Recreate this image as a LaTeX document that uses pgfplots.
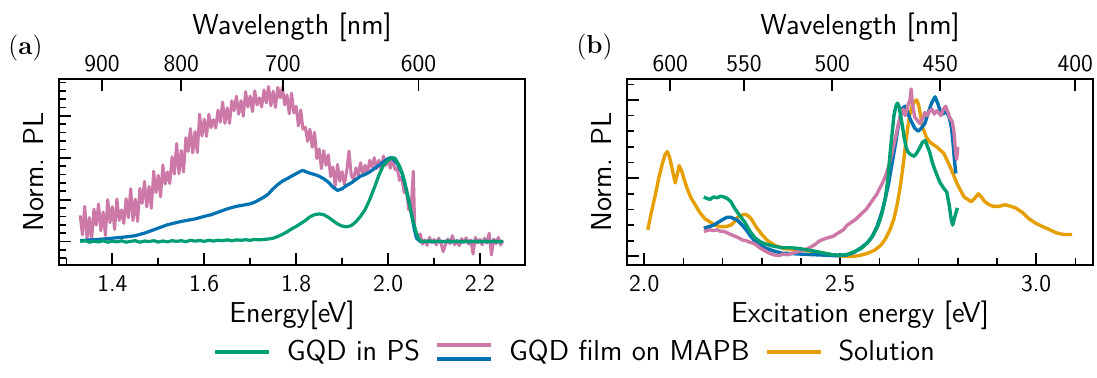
\documentclass[border=0pt]{standalone}
\usepackage{fontspec}
\usepackage{pgfplots}
\usepackage{pgfplotstable}
\pgfplotsset{compat=1.18}
\renewcommand{\familydefault}{\sfdefault}
\definecolor{cgreen}{HTML}{009E73}
\definecolor{cpink}{HTML}{CC79A7}
\definecolor{cblue}{HTML}{0072B2}
\definecolor{corange}{HTML}{E69F00}

% ---------------- panel (a) data ----------------
\pgfplotstableread{
E v
1.330 0.312
1.335 0.08
1.340 0.42
1.345 0.034
1.350 0.286
1.355 0.01
1.360 0.389
1.365 0.196
1.370 0.448
1.375 0.128
1.380 0.353
1.385 0.072
1.390 0.50
1.395 0.224
1.400 0.415
1.405 0.144
1.410 0.506
1.415 0.252
1.420 0.377
1.425 0.216
1.430 0.512
1.435 0.285
1.440 0.63
1.445 0.249
1.450 0.506
1.455 0.24
1.460 0.634
1.465 0.456
1.470 0.718
1.475 0.413
1.480 0.658
1.485 0.397
1.490 0.84
1.495 0.584
1.500 0.79
1.505 0.534
1.510 0.916
1.515 0.687
1.520 0.832
1.525 0.691
1.530 1.012
1.535 0.805
1.540 1.17
1.545 0.809
1.550 1.086
1.555 0.83
1.560 1.239
1.565 1.076
1.570 1.348
1.575 1.058
1.580 1.313
1.585 1.062
1.590 1.52
1.595 1.259
1.600 1.46
1.605 1.255
1.610 1.52
1.615 1.36
1.620 1.455
1.625 1.355
1.630 1.57
1.635 1.425
1.640 1.665
1.645 1.41
1.650 1.595
1.655 1.41
1.660 1.68
1.665 1.56
1.670 1.735
1.675 1.52
1.680 1.68
1.685 1.495
1.690 1.79
1.695 1.605
1.700 1.735
1.705 1.55
1.710 1.80
1.715 1.63
1.720 1.715
1.725 1.605
1.730 1.81
1.735 1.655
1.740 1.85
1.745 1.62
1.750 1.795
1.755 1.60
1.760 1.84
1.765 1.715
1.770 1.84
1.775 1.63
1.780 1.75
1.785 1.525
1.790 1.77
1.795 1.535
1.800 1.615
1.805 1.38
1.810 1.57
1.815 1.34
1.820 1.365
1.825 1.195
1.830 1.34
1.835 1.125
1.840 1.305
1.845 0.99
1.850 1.105
1.855 0.87
1.860 1.085
1.865 0.91
1.870 1.035
1.875 0.775
1.880 0.89
1.885 0.665
1.890 0.92
1.895 0.72
1.900 0.835
1.905 0.68
1.910 0.84
1.915 1.08
1.920 0.79
1.925 0.74
1.930 0.88
1.935 0.79
1.940 0.94
1.945 0.80
1.950 0.91
1.955 0.81
1.960 0.97
1.965 0.89
1.970 1.00
1.975 0.87
1.980 0.97
1.985 0.86
1.990 1.02
1.995 0.91
2.000 0.985
2.005 0.875
2.010 1.00
2.015 0.86
2.020 0.87
2.025 0.73
2.030 0.77
2.035 0.585
2.040 0.62
2.045 0.38
2.050 0.38
2.055 0.84
2.058 0.18
2.060 0.12
2.065 0.06
2.070 0.09
2.075 -0.03
2.080 0.02
2.085 -0.045
2.090 0.05
2.095 -0.015
2.100 0.025
2.105 -0.04
2.110 0.04
2.115 -0.02
2.120 -0.12
2.125 -0.035
2.130 0.03
2.135 -0.025
2.140 0.07
2.145 -0.04
2.150 0.015
2.155 -0.05
2.160 0.035
2.165 -0.01
2.170 0.045
2.175 -0.03
2.180 0.02
2.185 -0.15
2.190 0.05
2.195 -0.015
2.200 0.025
2.205 -0.04
2.210 0.04
2.215 -0.02
2.220 0.10
2.225 -0.16
2.230 0.03
2.235 -0.025
2.240 0.05
2.245 -0.04
2.250 0.015
}\pinkA

\pgfplotstableread{
E v
1.330 0.010
1.350 0.018
1.370 0.025
1.390 0.035
1.400 0.040
1.420 0.050
1.440 0.062
1.450 0.070
1.460 0.085
1.470 0.100
1.480 0.120
1.490 0.140
1.500 0.160
1.510 0.180
1.520 0.200
1.535 0.220
1.550 0.240
1.565 0.255
1.580 0.270
1.600 0.300
1.615 0.320
1.630 0.350
1.650 0.390
1.670 0.420
1.690 0.440
1.700 0.450
1.710 0.470
1.720 0.500
1.730 0.530
1.740 0.570
1.750 0.630
1.760 0.680
1.770 0.720
1.780 0.750
1.790 0.780
1.800 0.810
1.810 0.840
1.815 0.850
1.820 0.835
1.830 0.815
1.840 0.800
1.850 0.780
1.860 0.750
1.870 0.710
1.880 0.650
1.890 0.610
1.900 0.630
1.910 0.670
1.920 0.700
1.930 0.740
1.940 0.780
1.950 0.800
1.960 0.830
1.970 0.870
1.980 0.910
1.990 0.950
2.000 0.990
2.005 1.000
2.010 0.990
2.020 0.930
2.030 0.820
2.040 0.620
2.050 0.360
2.057 0.150
2.062 0.040
2.070 0.000
2.250 0.000
}\blueA

\pgfplotstableread{
E v
1.330 0.000
1.340 0.010
1.350 -0.008
1.360 0.005
1.370 -0.005
1.380 0.010
1.390 -0.008
1.400 0.005
1.410 -0.004
1.420 0.009
1.430 -0.008
1.440 0.002
1.450 0.010
1.460 -0.008
1.470 0.006
1.480 0.000
1.490 0.010
1.500 -0.006
1.510 0.006
1.520 -0.004
1.530 0.010
1.540 0.002
1.550 0.010
1.560 -0.002
1.570 0.014
1.580 0.005
1.590 0.012
1.600 0.002
1.610 0.015
1.620 0.006
1.630 0.016
1.640 0.010
1.650 0.020
1.660 0.010
1.670 0.020
1.680 0.015
1.690 0.022
1.700 0.015
1.710 0.025
1.720 0.020
1.730 0.026
1.740 0.030
1.750 0.040
1.760 0.060
1.770 0.085
1.780 0.115
1.790 0.150
1.800 0.180
1.810 0.215
1.820 0.250
1.830 0.295
1.840 0.320
1.850 0.330
1.860 0.320
1.870 0.290
1.880 0.250
1.890 0.210
1.900 0.185
1.910 0.175
1.920 0.190
1.930 0.235
1.940 0.300
1.950 0.380
1.960 0.500
1.970 0.640
1.980 0.790
1.990 0.910
2.000 0.970
2.010 1.000
2.015 0.995
2.020 0.950
2.025 0.900
2.030 0.830
2.035 0.740
2.040 0.600
2.045 0.480
2.050 0.350
2.055 0.230
2.060 0.130
2.065 0.050
2.070 0.005
2.080 0.000
2.090 0.006
2.100 -0.004
2.110 0.005
2.120 -0.003
2.130 0.006
2.140 -0.004
2.150 0.004
2.160 -0.005
2.170 0.005
2.180 -0.003
2.190 0.004
2.200 -0.004
2.210 0.005
2.220 -0.003
2.230 0.004
2.240 -0.004
2.250 0.002
}\greenA

% ---------------- panel (b) data ----------------
\pgfplotstableread{
E v
2.009 0.17
2.018 0.28
2.028 0.39
2.037 0.50
2.046 0.59
2.053 0.65
2.059 0.67
2.065 0.63
2.072 0.55
2.079 0.47
2.084 0.52
2.089 0.58
2.095 0.55
2.102 0.49
2.110 0.43
2.120 0.37
2.130 0.33
2.142 0.28
2.155 0.24
2.168 0.22
2.180 0.20
2.194 0.19
2.208 0.19
2.221 0.20
2.230 0.22
2.238 0.25
2.247 0.26
2.256 0.27
2.265 0.26
2.273 0.24
2.285 0.19
2.300 0.14
2.315 0.10
2.334 0.07
2.355 0.05
2.378 0.045
2.400 0.04
2.420 0.035
2.440 0.03
2.460 0.02
2.483 0.008
2.500 0.003
2.518 0.0
2.535 0.0
2.553 0.008
2.570 0.02
2.588 0.04
2.603 0.07
2.615 0.11
2.627 0.17
2.637 0.24
2.646 0.34
2.654 0.46
2.661 0.59
2.667 0.72
2.672 0.82
2.677 0.90
2.683 0.96
2.690 0.99
2.695 1.00
2.700 0.97
2.705 0.90
2.711 0.82
2.720 0.76
2.729 0.73
2.746 0.70
2.764 0.66
2.781 0.57
2.799 0.46
2.816 0.38
2.834 0.35
2.843 0.37
2.852 0.40
2.860 0.38
2.869 0.35
2.880 0.33
2.891 0.32
2.905 0.32
2.921 0.33
2.935 0.32
2.947 0.31
2.965 0.28
2.982 0.24
3.000 0.21
3.017 0.19
3.035 0.17
3.052 0.15
3.070 0.14
3.092 0.14
}\solB

\pgfplotstableread{
E v
2.152 0.38
2.160 0.37
2.168 0.365
2.177 0.38
2.186 0.375
2.195 0.385
2.203 0.38
2.212 0.37
2.221 0.35
2.230 0.31
2.238 0.28
2.247 0.25
2.256 0.22
2.270 0.16
2.282 0.12
2.295 0.095
2.308 0.08
2.330 0.065
2.352 0.055
2.375 0.055
2.396 0.05
2.420 0.04
2.440 0.03
2.460 0.02
2.483 0.01
2.500 0.008
2.518 0.012
2.536 0.03
2.553 0.05
2.571 0.09
2.585 0.14
2.597 0.20
2.606 0.27
2.615 0.37
2.622 0.50
2.628 0.68
2.633 0.80
2.637 0.90
2.642 0.96
2.646 0.98
2.650 0.96
2.654 0.90
2.659 0.83
2.663 0.76
2.668 0.70
2.672 0.67
2.680 0.65
2.689 0.64
2.695 0.66
2.702 0.69
2.710 0.73
2.717 0.74
2.723 0.70
2.729 0.66
2.735 0.60
2.742 0.55
2.750 0.50
2.755 0.47
2.763 0.44
2.772 0.41
2.778 0.33
2.783 0.24
2.787 0.20
2.792 0.25
2.799 0.31
}\greenB

\pgfplotstableread{
E v
2.152 0.18
2.165 0.19
2.177 0.20
2.190 0.22
2.203 0.24
2.212 0.25
2.221 0.25
2.230 0.24
2.238 0.23
2.250 0.20
2.260 0.17
2.271 0.13
2.282 0.10
2.295 0.075
2.308 0.055
2.330 0.035
2.352 0.02
2.375 0.018
2.396 0.015
2.420 0.012
2.440 0.01
2.460 0.008
2.483 0.005
2.500 0.005
2.518 0.01
2.535 0.025
2.553 0.055
2.568 0.085
2.580 0.12
2.594 0.19
2.606 0.28
2.615 0.37
2.623 0.46
2.632 0.59
2.641 0.72
2.648 0.83
2.654 0.90
2.660 0.95
2.666 0.96
2.672 0.92
2.680 0.87
2.690 0.82
2.699 0.80
2.707 0.82
2.716 0.85
2.725 0.92
2.733 0.98
2.742 1.02
2.750 0.97
2.756 0.92
2.763 0.91
2.770 0.93
2.778 0.89
2.784 0.82
2.788 0.72
2.792 0.60
2.795 0.53
}\blueB

\pgfplotstableread{
E v
2.152 0.16
2.160 0.165
2.168 0.17
2.177 0.165
2.186 0.17
2.195 0.16
2.203 0.16
2.212 0.15
2.221 0.14
2.230 0.13
2.240 0.12
2.250 0.105
2.260 0.10
2.270 0.09
2.282 0.08
2.295 0.055
2.308 0.035
2.320 0.02
2.330 0.01
2.343 0.005
2.355 0.015
2.365 0.01
2.378 0.02
2.390 0.03
2.400 0.035
2.413 0.045
2.425 0.06
2.435 0.075
2.448 0.10
2.458 0.11
2.470 0.12
2.483 0.13
2.495 0.15
2.508 0.17
2.518 0.20
2.530 0.22
2.541 0.24
2.553 0.27
2.566 0.30
2.580 0.35
2.594 0.40
2.606 0.46
2.615 0.51
2.623 0.57
2.632 0.66
2.641 0.76
2.648 0.84
2.654 0.90
2.660 0.94
2.666 0.90
2.672 0.96
2.678 1.00
2.681 1.07
2.684 0.98
2.690 0.89
2.697 0.87
2.703 0.85
2.710 0.88
2.716 0.92
2.722 0.90
2.728 0.93
2.734 0.94
2.740 0.91
2.746 0.93
2.751 0.92
2.757 0.90
2.763 0.94
2.769 0.96
2.775 0.92
2.781 0.88
2.786 0.86
2.790 0.80
2.794 0.68
2.797 0.62
2.800 0.70
}\pinkB

\pgfplotsset{
  base/.style={
    scale only axis, width=233pt, height=93pt,
    anchor=south west,
    font=\fontsize{14.4}{17}\selectfont,
    tick label style={font=\fontsize{12}{14}\selectfont},
    /pgf/number format/assume math mode=true,
    axis line style={line width=1pt},
    tick align=inside,
    major tick length=6pt, minor tick length=3.3pt,
    major tick style={line width=0.9pt, black},
    minor tick style={line width=0.8pt, black},
  },
  main/.style={
    base,
    xtick pos=left, ytick pos=left,
    yticklabels={},
    xticklabel style={yshift=-1.5pt, /pgf/number format/.cd, fixed, fixed zerofill, precision=1},
    xlabel style={at={(axis description cs:0.5,-0.31)}, anchor=base},
    ylabel style={at={(axis description cs:-0.054,0.5)}, anchor=center},
    ylabel={Norm. PL},
    clip=false,
  },
  top/.style={
    base,
    axis x line*=top, axis y line=none,
    ymin=0, ymax=1,
    minor xtick={},
    xlabel={Wavelength [nm]},
    xlabel style={at={(axis description cs:0.5,1.24)}, anchor=base},
  },
}

\begin{document}
\begin{tikzpicture}
\useasboundingbox (0,0) rectangle (548.5pt,189pt);

% ---------- panel (a) ----------
\begin{axis}[main, at={(29.5pt,56.5pt)},
  xmin=1.284, xmax=2.298, ymin=-0.28, ymax=1.94,
  xtick={1.2,1.4,1.6,1.8,2.0,2.2,2.4}, minor x tick num=1,
  ytick={-0.5,0,0.5,1,1.5,2}, minor y tick num=4,
  xlabel={Energy[eV]},
  legend style={at={(axis description cs:1.109,-0.468)}, anchor=center,
    draw=none, fill=none, legend columns=-1,
    font=\fontsize{14.4}{17}\selectfont,
    /tikz/every odd column/.append style={column sep=6pt},
    /tikz/every even column/.append style={column sep=5.5pt}},
  legend image code/.code={\draw[#1, line width=2pt] (0pt,0pt) -- (27pt,0pt);},
]
\addlegendimage{cgreen}
\addlegendentry{GQD in PS}
\addlegendimage{legend image code/.code={
  \draw[cpink, line width=2pt] (0pt,3.5pt) -- (27pt,3.5pt);
  \draw[cblue, line width=2pt] (0pt,-3.5pt) -- (27pt,-3.5pt);}}
\addlegendentry{GQD film on MAPB}
\addlegendimage{corange}
\addlegendentry{Solution}

\addplot[cpink, line width=1.5pt, line join=round, forget plot] table[x=E, y=v] {\pinkA};
\addplot[cblue, line width=1.6pt, line join=round, forget plot] table[x=E, y=v] {\blueA};
\addplot[cgreen, line width=1.6pt, line join=round, forget plot] table[x=E, y=v] {\greenA};

\node at (axis description cs:-0.072,1.167) {\fontsize{13}{15}\selectfont\rmfamily(\textbf{a})};
\end{axis}

\begin{axis}[top, at={(29.5pt,56.5pt)},
  xmin=1.284, xmax=2.298,
  xtick={1.37760,1.54980,1.77120,2.06640},
  xticklabels={900,800,700,600},
]
\addplot[draw=none] coordinates {(1.5,0.5)};
\end{axis}

% ---------- panel (b) ----------
\begin{axis}[main, at={(313.5pt,56.5pt)},
  xmin=1.956, xmax=3.145, ymin=-0.055, ymax=1.134,
  xtick={1.5,2.0,2.5,3.0,3.5}, minor x tick num=4,
  ytick={-0.5,0,0.5,1,1.5}, minor y tick num=4,
  xlabel={Excitation energy [eV]},
]
\addplot[corange, line width=1.7pt, line join=round] table[x=E, y=v] {\solB};
\addplot[cblue, line width=1.7pt, line join=round] table[x=E, y=v] {\blueB};
\addplot[cpink, line width=1.7pt, line join=round] table[x=E, y=v] {\pinkB};
\addplot[cgreen, line width=1.7pt, line join=round] table[x=E, y=v] {\greenB};

\node at (axis description cs:-0.0695,1.172) {\fontsize{13}{15}\selectfont\rmfamily(\textbf{b})};
\end{axis}

\begin{axis}[top, at={(313.5pt,56.5pt)},
  xmin=1.956, xmax=3.145,
  xtick={2.06640,2.25427,2.47968,2.75520,3.09960},
  xticklabels={600,550,500,450,400},
]
\addplot[draw=none] coordinates {(2.5,0.5)};
\end{axis}
\end{tikzpicture}
\end{document}
